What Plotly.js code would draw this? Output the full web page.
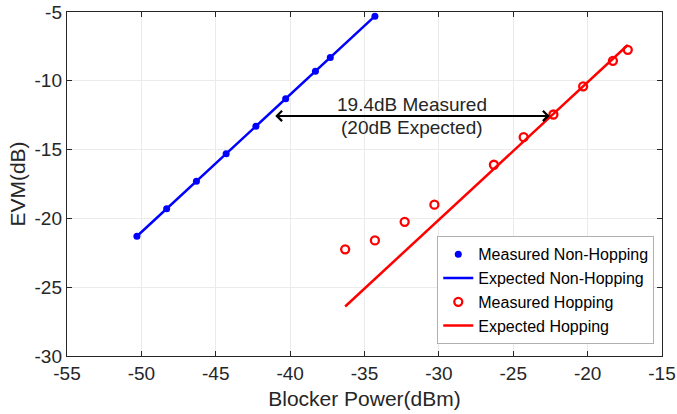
<!DOCTYPE html>
<html>
<head>
<meta charset="utf-8">
<script src="https://cdn.plot.ly/plotly-3.0.1.min.js"></script>
<style>html,body{margin:0;padding:0;background:#fff;}#chart{width:677px;height:414px;}</style>
</head>
<body>
<div id="chart"></div>
<script>
// Measured Non-Hopping
const measNH_x = [-50.3, -48.3, -46.3, -44.3, -42.3, -40.3, -38.3, -37.3, -34.3];
const measNH_y = [-21.3, -19.3, -17.3, -15.3, -13.3, -11.3, -9.3, -8.3, -5.3];
// Expected Non-Hopping
const expNH_x = [-50.3, -34.3];
const expNH_y = [-21.3, -5.3];
// Measured Hopping
const measH_x = [-36.3, -34.3, -32.3, -30.3, -26.3, -24.3, -22.3, -20.3, -18.3, -17.3];
const measH_y = [-22.25, -21.6, -20.25, -19.0, -16.1, -14.1, -12.45, -10.4, -8.55, -7.75];
// Expected Hopping
const expH_x = [-36.3, -17.3];
const expH_y = [-26.4, -7.4];
// Annotation
const arrowFrom = [-41.1, -12.55];
const arrowTo = [-22.55, -12.55];
const labelX = -31.83;
const labelLines = ["19.4dB Measured", "(20dB Expected)"];
const labelY = [-11.74, -13.41];

const xTicks = [-55, -50, -45, -40, -35, -30, -25, -20, -15];
const yTicks = [-30, -25, -20, -15, -10, -5];

const FONT = "Liberation Sans, Arial, sans-serif";
const TXT = "#262626";

const traces = [
  {x: measNH_x, y: measNH_y, mode: "markers", name: "Measured Non-Hopping",
   marker: {color: "#0000ff", size: 7, symbol: "circle"}},
  {x: expNH_x, y: expNH_y, mode: "lines", name: "Expected Non-Hopping",
   line: {color: "#0000ff", width: 2.5}},
  {x: measH_x, y: measH_y, mode: "markers", name: "Measured Hopping",
   marker: {color: "#ff0000", size: 8, symbol: "circle-open", line: {width: 2.3, color: "#ff0000"}}},
  {x: expH_x, y: expH_y, mode: "lines", name: "Expected Hopping",
   line: {color: "#ff0000", width: 2.5}}
];

const axisCommon = {
  showline: true, linecolor: TXT, linewidth: 1.2, mirror: "ticks",
  ticks: "inside", ticklen: 5, tickwidth: 1, tickcolor: TXT,
  showgrid: true, gridcolor: "#ebebeb", gridwidth: 1, zeroline: false,
  tickfont: {family: FONT, size: 19, color: TXT}
};

const layout = {
  width: 677, height: 414,
  margin: {l: 67, r: 15, t: 12, b: 58},
  paper_bgcolor: "#fff", plot_bgcolor: "#fff",
  font: {family: FONT, color: TXT},
  showlegend: true,
  xaxis: Object.assign({}, axisCommon, {
    range: [-55, -15], tickvals: xTicks, ticktext: xTicks.map(String),
    title: {text: "Blocker Power(dBm)", font: {family: FONT, size: 21, color: TXT}, standoff: 8}
  }),
  yaxis: Object.assign({}, axisCommon, {
    range: [-30, -5], tickvals: yTicks, ticktext: yTicks.map(String),
    title: {text: "EVM(dB)", font: {family: FONT, size: 21, color: TXT}, standoff: 3}
  }),
  legend: {
    x: 0.987, y: 0.034, xanchor: "right", yanchor: "bottom",
    bgcolor: "#fff", bordercolor: "#b0b0b0", borderwidth: 1,
    font: {family: FONT, size: 16, color: "#000"},
    tracegroupgap: 0, itemwidth: 30
  },
  annotations: [
    {x: arrowTo[0], y: arrowTo[1], ax: arrowFrom[0], ay: arrowFrom[1],
     xref: "x", yref: "y", axref: "x", ayref: "y", text: "",
     showarrow: true, arrowside: "end+start", arrowhead: 4, startarrowhead: 4,
     arrowsize: 1, startarrowsize: 1, arrowwidth: 2, arrowcolor: "#000"},
    {x: labelX, y: labelY[0], xref: "x", yref: "y", text: labelLines[0], showarrow: false,
     font: {family: FONT, size: 19, color: TXT}, xanchor: "center", yanchor: "middle"},
    {x: labelX, y: labelY[1], xref: "x", yref: "y", text: labelLines[1], showarrow: false,
     font: {family: FONT, size: 19, color: TXT}, xanchor: "center", yanchor: "middle"}
  ]
};

Plotly.newPlot("chart", traces, layout, {displayModeBar: false, staticPlot: true});
</script>
</body>
</html>
